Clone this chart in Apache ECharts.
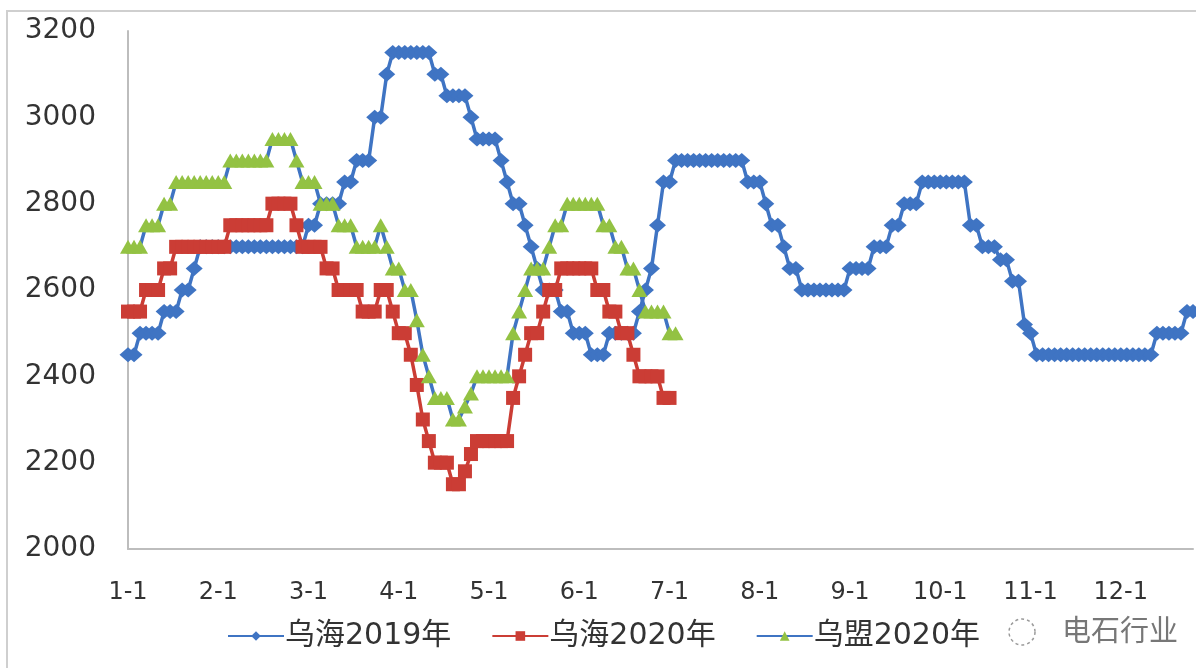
<!DOCTYPE html>
<html>
<head>
<meta charset="utf-8">
<script src="https://cdn.jsdelivr.net/npm/echarts@6/dist/echarts.min.js"></script>
<style>
html,body{margin:0;padding:0;background:#fff;}
#c{width:1196px;height:668px;}
</style>
</head>
<body>
<div id="c"></div>
<script>
// Month tick labels (one label every 15 slots; 1 slot = 2 days)
const monthLabels = ['1-1','2-1','3-1','4-1','5-1','6-1','7-1','8-1','9-1','10-1','11-1','12-1'];
const seriesNames = ['乌海2019年','乌海2020年','乌盟2020年'];
const slotCount = 178;

// 乌海2019年 (one value per 2-day slot)
const wuhai2019 = [
 2450,2450,2500,2500,2500,2500,2550,2550,2550,2600,
 2600,2650,2700,2700,2700,2700,2700,2700,2700,2700,
 2700,2700,2700,2700,2700,2700,2700,2700,2700,2700,
 2750,2750,2800,2800,2800,2800,2850,2850,2900,2900,
 2900,3000,3000,3100,3150,3150,3150,3150,3150,3150,
 3150,3100,3100,3050,3050,3050,3050,3000,2950,2950,
 2950,2950,2900,2850,2800,2800,2750,2700,2650,2600,
 2600,2600,2550,2550,2500,2500,2500,2450,2450,2450,
 2500,2500,2500,2500,2500,2550,2600,2650,2750,2850,
 2850,2900,2900,2900,2900,2900,2900,2900,2900,2900,
 2900,2900,2900,2850,2850,2850,2800,2750,2750,2700,
 2650,2650,2600,2600,2600,2600,2600,2600,2600,2600,
 2650,2650,2650,2650,2700,2700,2700,2750,2750,2800,
 2800,2800,2850,2850,2850,2850,2850,2850,2850,2850,
 2750,2750,2700,2700,2700,2670,2670,2620,2620,2520,
 2500,2450,2450,2450,2450,2450,2450,2450,2450,2450,
 2450,2450,2450,2450,2450,2450,2450,2450,2450,2450,
 2450,2500,2500,2500,2500,2500,2550,2550
];

// 乌海2020年
const wuhai2020 = [
 2550,2550,2550,2600,2600,2600,2650,2650,2700,2700,
 2700,2700,2700,2700,2700,2700,2700,2750,2750,2750,
 2750,2750,2750,2750,2800,2800,2800,2800,2750,2700,
 2700,2700,2700,2650,2650,2600,2600,2600,2600,2550,
 2550,2550,2600,2600,2550,2500,2500,2450,2380,2300,
 2250,2200,2200,2200,2150,2150,2180,2220,2250,2250,
 2250,2250,2250,2250,2350,2400,2450,2500,2500,2550,
 2600,2600,2650,2650,2650,2650,2650,2650,2600,2600,
 2550,2550,2500,2500,2450,2400,2400,2400,2400,2350,
 2350
];

// 乌盟2020年
const wumeng2020 = [
 2700,2700,2700,2750,2750,2750,2800,2800,2850,2850,
 2850,2850,2850,2850,2850,2850,2850,2900,2900,2900,
 2900,2900,2900,2900,2950,2950,2950,2950,2900,2850,
 2850,2850,2800,2800,2800,2750,2750,2750,2700,2700,
 2700,2700,2750,2700,2650,2650,2600,2600,2530,2450,
 2400,2350,2350,2350,2300,2300,2330,2360,2400,2400,
 2400,2400,2400,2400,2500,2550,2600,2650,2650,2650,
 2700,2750,2750,2800,2800,2800,2800,2800,2800,2750,
 2750,2700,2700,2650,2650,2600,2550,2550,2550,2550,
 2500,2500
];

const categories = [];
for (let i = 0; i < slotCount; i++) {
  categories.push(i % 15 === 0 ? monthLabels[i / 15] : '');
}

const BLUE = '#3F74C3';
const RED = '#CB3D35';
const GREEN = '#93C243';
const TEXT = '#333333';
const FONT = "'DejaVu Sans', 'Noto Sans CJK SC', sans-serif";

const chart = echarts.init(document.getElementById('c'), null, {renderer: 'canvas'});
chart.setOption({
  animation: false,
  backgroundColor: '#fff',
  grid: {left: 128, right: 3, top: 31, bottom: 119, containLabel: false},
  xAxis: {
    type: 'category',
    data: categories,
    boundaryGap: false,
    axisLine: {lineStyle: {color: '#BDBDBD', width: 2}},
    axisTick: {show: false},
    axisLabel: {interval: 14, color: TEXT, fontSize: 24, fontFamily: FONT, margin: 32},
    splitLine: {show: false}
  },
  yAxis: {
    type: 'value',
    min: 2000, max: 3200, interval: 200,
    axisLine: {show: true, lineStyle: {color: '#BDBDBD', width: 2}},
    axisTick: {show: false},
    axisLabel: {color: TEXT, fontSize: 28, fontFamily: FONT, margin: 32,
                formatter: function (v) { return String(v); }},
    splitLine: {show: false}
  },
  legend: {
    data: seriesNames,
    left: 222, top: 616,
    itemWidth: 56, itemHeight: 12, itemGap: 40,
    textStyle: {color: TEXT, fontSize: 30, fontFamily: FONT, padding: [0,0,0,-4]}
  },
  graphic: [
    {type: 'rect', silent: true, z: -10, shape: {x: 7, y: 11, width: 1300, height: 800},
     style: {fill: 'none', stroke: '#CFCFCF', lineWidth: 2}},
    {type: 'circle', shape: {cx: 1022, cy: 632, r: 13},
     style: {fill: 'none', stroke: '#9a9a9a', lineWidth: 1.5, lineDash: [3, 3]}},
    {type: 'text', left: 1062, top: 615,
     style: {text: '电石行业', fill: '#777777', font: "29px 'Noto Sans CJK SC'"}}
  ],
  series: [
    {
      name: seriesNames[0], type: 'line', data: wuhai2019, z: 2,
      symbol: 'diamond', symbolSize: [17, 15], showAllSymbol: true,
      lineStyle: {color: BLUE, width: 3.5}, itemStyle: {color: BLUE}
    },
    {
      name: seriesNames[1], type: 'line', data: wuhai2020, z: 3,
      symbol: 'rect', symbolSize: [14, 14], showAllSymbol: true,
      lineStyle: {color: RED, width: 3.5}, itemStyle: {color: RED}
    },
    {
      name: seriesNames[2], type: 'line', data: wumeng2020, z: 4,
      symbol: 'triangle', symbolSize: [16, 14], showAllSymbol: true,
      lineStyle: {color: BLUE, width: 3.5}, itemStyle: {color: GREEN}
    }
  ]
});
</script>
</body>
</html>
